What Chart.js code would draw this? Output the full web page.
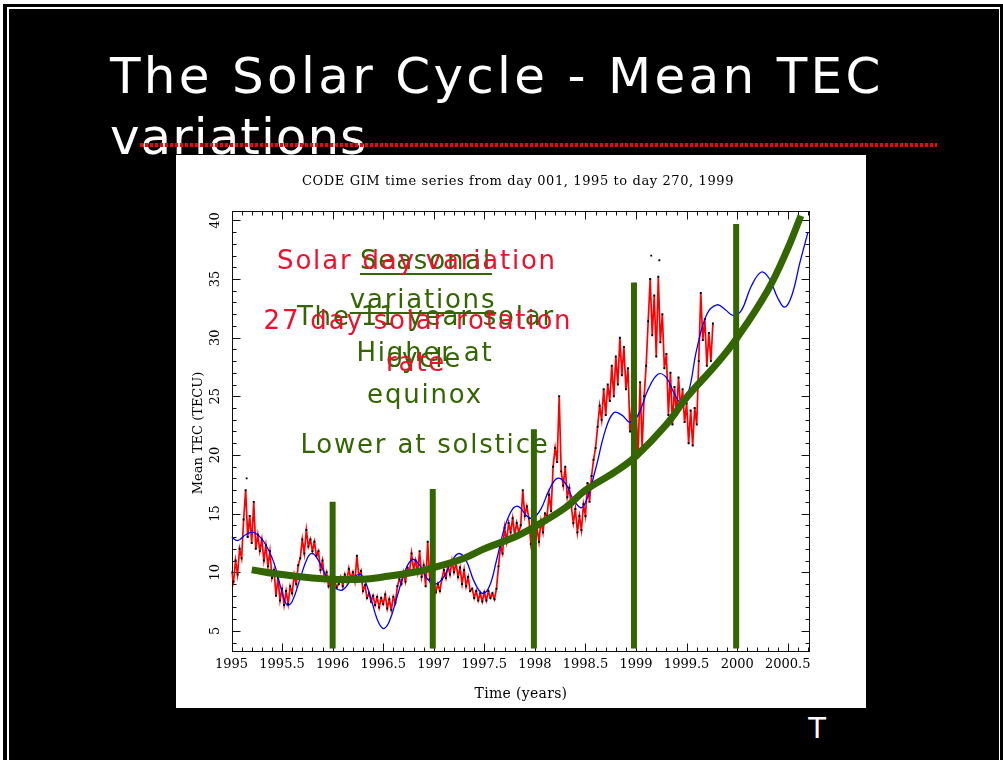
<!DOCTYPE html>
<html>
<head>
<meta charset="utf-8">
<title>The Solar Cycle - Mean TEC variations</title>
<script src="https://cdn.jsdelivr.net/npm/chart.js@4.4.1/dist/chart.umd.min.js"></script>
<style>
  html, body { margin: 0; padding: 0; }
  body { width: 1003px; height: 760px; background: #fff; position: relative; overflow: hidden; font-family: "DejaVu Sans", Verdana, sans-serif; }
  .slide { position: absolute; left: 3px; top: 4px; right: 0; bottom: 0; background: #000; }
  .frame { position: absolute; left: 7px; top: 7px; width: 990px; height: 800px; border-left: 2px solid #fff; border-top: 2px solid #fff; border-right: 1px solid #fff; }
  h1 { position: absolute; left: 110px; top: 46px; margin: 0; font-weight: normal; font-size: 50px; line-height: 61px; letter-spacing: 3.3px; color: #fff; white-space: nowrap; }
  h1 span { letter-spacing: 1px; }
  .dots { position: absolute; left: 140px; top: 143px; width: 797px; height: 4px; background: repeating-linear-gradient(to right, #f00 0 3px, transparent 3px 5px); }
  .board { position: absolute; left: 176px; top: 155px; width: 690px; height: 553px; background: #fff; }
  .board canvas { position: absolute; left: 0; top: 0; }
  .serif { position: absolute; font-family: "DejaVu Serif", serif; color: #000; white-space: nowrap; text-align: center; }
  .note { position: absolute; width: 400px; font-size: 26px; line-height: 26px; letter-spacing: 1.8px; text-align: center; white-space: nowrap; }
  .green { color: #336600; }
  .red { color: #f0102e; }
  .uline { text-decoration: underline; text-decoration-thickness: 2px; text-underline-offset: 4px; }
  .tee { position: absolute; left: 797px; top: 714px; width: 40px; text-align: center; font-size: 29px; line-height: 29px; color: #fff; }
</style>
</head>
<body>
<div class="slide"></div>
<div class="frame"></div>
<h1>The Solar Cycle - Mean TEC<br><span>variations</span></h1>
<div class="dots"></div>

<div class="board">
  <canvas id="tecChart" width="690" height="553"></canvas>
</div>

<div class="serif" style="left:176px; top:173px; width:684px; font-size:13px; line-height:16px; letter-spacing:0.6px;">CODE GIM time series from day 001, 1995 to day 270, 1999</div>
<div class="serif" style="left:441px; top:684px; width:160px; font-size:14px; line-height:18px; letter-spacing:0.3px;">Time (years)</div>
<div class="serif" style="left:118px; top:424px; width:160px; font-size:13px; line-height:18px; transform: rotate(-90deg);">Mean TEC (TECU)</div>

<!-- slide notes laid over the chart -->
<div class="note green uline" style="left:226px; top:247px;">Seasonal</div>
<div class="note green uline" style="left:223px; top:286px;">variations</div>
<div class="note green" style="left:226px; top:303px;">The 11 year solar</div>
<div class="note green" style="left:224px; top:345px;">cycle</div>
<div class="note green" style="left:225px; top:339px;">Higher at</div>
<div class="note green" style="left:225px; top:381px;">equinox</div>
<div class="note green" style="left:225px; top:431px;">Lower at solstice</div>
<div class="note red" style="left:217px; top:247px;">Solar day variation</div>
<div class="note red" style="left:218px; top:307px;">27 day solar rotation</div>
<div class="note red" style="left:216px; top:349px;">rate</div>

<div class="tee">T</div>

<script>
const tecStart = 1995.0;
const tecStep = 0.02;
const tec1995 = [10.0, 9.2, 11.0, 9.8, 12.0, 11.2, 14.5, 17.0, 13.0, 14.8,
                 12.5, 16.0, 12.0, 13.2, 11.8, 12.8, 11.0, 12.3, 10.5, 11.8,
                 9.5, 10.2, 8.0, 9.5, 7.6, 8.6, 7.2, 8.4, 7.3, 8.8,
                 8.2, 9.8, 9.0, 10.6, 11.2, 12.8, 11.6, 13.6, 12.2, 12.8,
                 11.8, 12.6, 11.4, 11.8, 10.2, 11.0, 9.4, 10.0, 8.8, 9.2];
const tec1996 = [8.6, 9.3, 8.7, 9.0, 9.6, 8.8, 9.8, 9.2, 10.3, 9.4,
                 10.0, 9.2, 11.4, 9.6, 10.1, 8.4, 8.9, 7.8, 8.2, 7.5,
                 8.0, 7.2, 7.9, 7.0, 7.8, 7.3, 8.1, 6.9, 7.7, 6.8,
                 7.9, 7.4, 8.8, 9.4, 9.0, 10.0, 9.2, 10.4, 10.0, 11.6,
                 10.2, 11.0, 10.0, 11.8, 9.6, 10.6, 8.8, 12.6, 9.4, 8.6];
const tec1997 = [9.2, 8.3, 9.0, 8.4, 9.4, 10.2, 9.5, 10.6, 9.8, 11.0,
                 10.0, 10.8, 9.6, 10.4, 9.0, 10.2, 8.8, 9.6, 8.4, 8.6,
                 7.8, 8.4, 7.6, 8.2, 7.5, 8.3, 7.6, 8.4, 7.8, 8.2,
                 7.7, 8.6, 10.5, 12.2, 11.6, 13.8, 12.6, 14.2, 13.4, 14.6,
                 13.2, 14.2, 13.4, 14.0, 17.0, 14.8, 15.6, 14.6, 12.4, 13.2];
const tec1998 = [12.0, 13.8, 12.6, 14.4, 13.4, 15.0, 14.8, 16.6, 15.2, 19.0,
                 20.6, 19.4, 25.0, 18.6, 17.4, 19.0, 16.4, 17.2, 15.6, 14.2,
                 15.4, 13.4, 14.8, 13.6, 15.8, 14.8, 17.6, 16.0, 18.2, 19.6,
                 20.6, 22.4, 24.2, 23.0, 25.6, 23.4, 26.0, 24.6, 27.6, 25.0,
                 28.4, 26.0, 30.0, 26.8, 29.2, 25.6, 27.4, 22.0, 24.4, 21.8];
const tec1999 = [24.0, 19.8, 26.2, 20.6, 25.0, 27.6, 31.4, 35.0, 30.2, 33.6,
                 28.4, 35.2, 29.6, 32.0, 27.4, 28.6, 23.4, 27.0, 22.6, 25.8,
                 23.4, 26.6, 24.0, 25.6, 22.8, 24.4, 21.0, 23.8, 20.8, 24.0,
                 22.6, 28.0, 33.8, 29.8, 31.6, 27.6, 30.4, 28.0, 31.2];

// isolated dots above the daily series
const outlierYears = [1995.15, 1999.15, 1999.23];
const outlierTec = [18.0, 37.0, 36.6];

// smooth (blue) fit
const fitYears = [1995.0, 1995.06, 1995.14, 1995.22, 1995.32, 1995.42, 1995.5, 1995.55, 1995.6, 1995.68,
                  1995.75, 1995.8, 1995.86, 1995.94, 1996.02, 1996.1, 1996.2, 1996.28, 1996.36, 1996.44,
                  1996.5, 1996.56, 1996.64, 1996.72, 1996.79, 1996.86, 1996.94, 1997.02, 1997.1, 1997.18,
                  1997.25, 1997.32, 1997.4, 1997.48, 1997.55, 1997.62, 1997.7, 1997.78, 1997.84, 1997.92,
                  1997.98, 1998.06, 1998.14, 1998.22, 1998.3, 1998.38, 1998.46, 1998.52, 1998.6, 1998.7,
                  1998.78, 1998.86, 1998.94, 1999.02, 1999.12, 1999.22, 1999.3, 1999.38, 1999.45, 1999.52,
                  1999.6, 1999.7, 1999.8, 1999.88, 1999.96, 2000.04, 2000.14, 2000.24, 2000.32, 2000.4,
                  2000.47, 2000.54, 2000.62, 2000.7];
const fitTec = [13.0, 12.7, 13.2, 13.4, 12.6, 10.8, 8.3, 7.2, 7.5, 9.5,
                11.2, 11.6, 11.0, 9.6, 8.7, 8.5, 9.5, 9.8, 8.3, 6.0,
                5.2, 5.8, 8.0, 10.2, 11.1, 10.6, 9.4, 9.0, 9.6, 11.0,
                11.6, 11.0, 9.2, 8.2, 8.8, 11.0, 13.8, 15.4, 15.6, 14.8,
                14.6, 15.4, 17.0, 18.0, 17.6, 16.2, 15.5, 16.4, 18.8, 22.2,
                23.6, 23.4, 22.8, 23.4, 25.6, 26.9, 26.6, 25.2, 24.4, 25.4,
                29.0, 32.0, 32.8, 32.4, 31.9, 32.3, 34.4, 35.6, 35.0, 33.4,
                32.6, 33.6, 36.4, 39.0];

// hand drawn solar cycle trend (thick green)
const trendYears = [1995.2, 1995.5, 1995.8, 1996.0, 1996.3, 1996.5, 1996.8, 1997.0, 1997.3, 1997.5,
                    1997.8, 1998.0, 1998.3, 1998.5, 1998.8, 1999.0, 1999.3, 1999.5, 1999.8, 2000.0,
                    2000.3, 2000.5, 2000.63];
const trendTec = [10.2, 9.8, 9.5, 9.4, 9.4, 9.6, 10.0, 10.4, 11.2, 12.0,
                  13.0, 13.9, 15.5, 17.0, 18.6, 19.9, 22.6, 24.9, 27.8, 30.0,
                  34.0, 37.6, 40.4];

// yearly markers (green vertical bars)
const markerYears = [1996.0, 1996.99, 1997.99, 1998.98, 1999.99];
const markerTops = [16.0, 17.1, 22.2, 34.7, 39.7];
const markerBase = 3.5;

const xTickLabels = ['1995', '1995.5', '1996', '1996.5', '1997', '1997.5', '1998', '1998.5',
                     '1999', '1999.5', '2000', '2000.5'];
const yTickLabels = ['5', '10', '15', '20', '25', '30', '35', '40'];

const GREEN = '#336600';

const tecPoints = [].concat(tec1995, tec1996, tec1997, tec1998, tec1999)
  .map((v, i) => ({ x: tecStart + i * tecStep, y: v }));
const outlierPoints = outlierYears.map((yr, i) => ({ x: yr, y: outlierTec[i] }));
const fitPoints = fitYears.map((yr, i) => ({ x: yr, y: fitTec[i] }));
const trendPoints = trendYears.map((yr, i) => ({ x: yr, y: trendTec[i] }));
const markerPoints = [];
markerYears.forEach((yr, i) => {
  markerPoints.push({ x: yr, y: markerBase }, { x: yr, y: markerTops[i] }, { x: yr, y: null });
});

// Box with inward ticks on all sides, plus the tick labels
const framePlugin = {
  id: 'frame',
  beforeDatasetsDraw(chart) {
    const { ctx, chartArea: a, scales } = chart;
    const xs = scales.x, ys = scales.y;
    ctx.save();
    ctx.strokeStyle = '#111';
    ctx.lineWidth = 1;
    const L = Math.round(a.left) + 0.5, R = Math.round(a.right) - 0.5;
    const T = Math.round(a.top) + 0.5, B = Math.round(a.bottom) - 0.5;
    ctx.strokeRect(L, T, R - L, B - T);
    ctx.beginPath();
    for (let i = 1; i <= 57; i++) {
      const px = Math.round(xs.getPixelForValue(1995 + i / 10)) + 0.5;
      const len = i % 5 === 0 ? 8 : 4;
      ctx.moveTo(px, B); ctx.lineTo(px, B - len);
      ctx.moveTo(px, T); ctx.lineTo(px, T + len);
    }
    for (let j = 4; j <= 40; j++) {
      const py = Math.round(ys.getPixelForValue(j)) + 0.5;
      const len = j % 5 === 0 ? 8 : 4;
      ctx.moveTo(L, py); ctx.lineTo(L + len, py);
      ctx.moveTo(R, py); ctx.lineTo(R - len, py);
    }
    ctx.stroke();

    ctx.fillStyle = '#000';
    ctx.font = '13px "DejaVu Serif", serif';
    ctx.textAlign = 'center';
    ctx.textBaseline = 'middle';
    xTickLabels.forEach(l => ctx.fillText(l, xs.getPixelForValue(parseFloat(l)), a.bottom + 13));
    yTickLabels.forEach(l => {
      ctx.save();
      ctx.translate(a.left - 15.5, ys.getPixelForValue(parseFloat(l)));
      ctx.rotate(-Math.PI / 2);
      ctx.fillText(l, 0, 0);
      ctx.restore();
    });
    ctx.restore();
  }
};

new Chart(document.getElementById('tecChart'), {
  type: 'line',
  data: {
    datasets: [
      {
        label: 'Year markers',
        data: markerPoints,
        borderColor: GREEN,
        borderWidth: 6,
        borderCapStyle: 'butt',
        pointRadius: 0,
        spanGaps: false,
        tension: 0
      },
      {
        label: 'Solar cycle',
        data: trendPoints,
        borderColor: GREEN,
        borderWidth: 7,
        pointRadius: 0,
        tension: 0.4
      },
      {
        label: 'Smoothed',
        data: fitPoints,
        borderColor: '#0000ff',
        borderWidth: 1.3,
        pointRadius: 0,
        tension: 0.4
      },
      {
        label: 'Outliers',
        data: outlierPoints,
        showLine: false,
        pointStyle: 'rect',
        pointRadius: 1.3,
        pointBorderWidth: 0,
        pointBackgroundColor: '#000'
      },
      {
        label: 'Daily mean TEC',
        data: tecPoints,
        borderColor: '#ff0000',
        borderWidth: 1.7,
        pointStyle: 'rect',
        pointRadius: 1.4,
        pointBorderWidth: 0,
        pointBackgroundColor: '#000',
        tension: 0
      }
    ]
  },
  options: {
    responsive: false,
    animation: false,
    devicePixelRatio: 1,
    layout: { padding: { left: 55.5, right: 56, top: 56, bottom: 56 } },
    plugins: { legend: { display: false }, tooltip: { enabled: false } },
    scales: {
      x: { type: 'linear', min: 1995, max: 2000.72, display: false },
      y: { type: 'linear', min: 3.2, max: 40.8, display: false }
    }
  },
  plugins: [framePlugin]
});
</script>
</body>
</html>
